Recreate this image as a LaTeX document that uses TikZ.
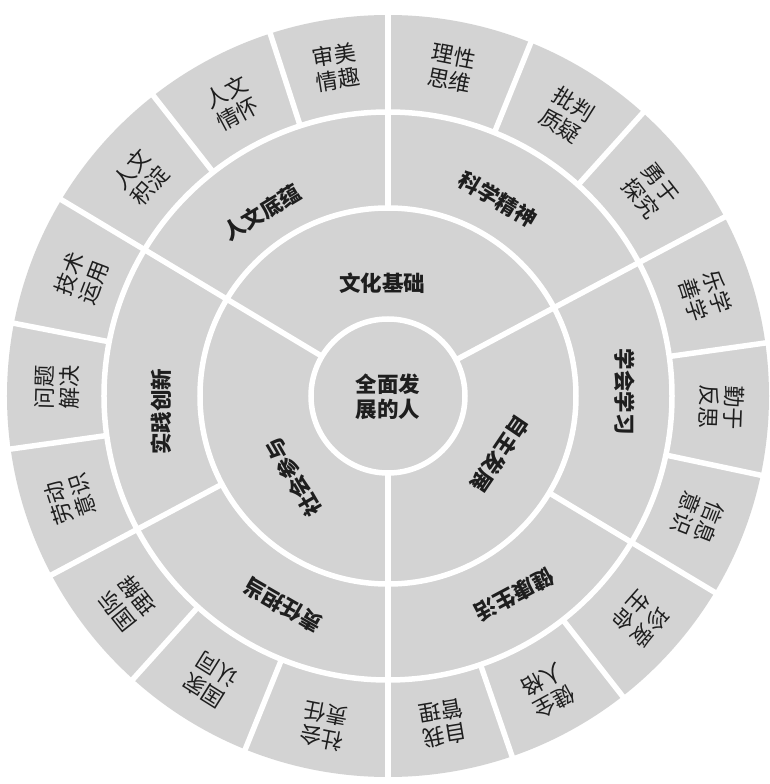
\documentclass[tikz,border=0pt]{standalone}
\usepackage{fontspec}
\newfontfamily\cjkfont{Noto Sans CJK SC}
\definecolor{ringgray}{RGB}{211,211,211}
\definecolor{labeltext}{RGB}{30,30,30}
\tikzset{
  divider/.style={white, line width=5.5pt},
  leaf/.style={text=labeltext, align=center, inner sep=0pt, font=\cjkfont\fontsize{22}{25}\selectfont},
  branch/.style={text=labeltext, inner sep=0pt, font=\cjkfont\bfseries\fontsize{21.5}{25}\selectfont},
}

\begin{document}
\begin{tikzpicture}[x=1pt, y=1pt]
    \useasboundingbox (-388,-388) rectangle (382,396);
    \fill[ringgray] (0,0) circle (381);

    % ring borders
    \draw[divider] (0,0) circle (77);
    \draw[divider] (0,0) circle (188);
    \draw[divider] (0,0) circle (284);

    % lines of the inner ring run to the edge
    \draw[divider] (28:77) -- (28:386);
    \draw[divider] (149:77) -- (149:386);
    \draw[divider] (270:77) -- (270:386);

    % lines of the middle ring
    \draw[divider] (90:188) -- (90:386);
    \draw[divider] (208:188) -- (208:386);
    \draw[divider] (329:188) -- (329:386);

    % lines of the outer ring
    \draw[divider] (8:284) -- (8:386);
    \draw[divider] (48:284) -- (48:386);
    \draw[divider] (68:284) -- (68:386);
    \draw[divider] (108:284) -- (108:386);
    \draw[divider] (128:284) -- (128:386);
    \draw[divider] (169:284) -- (169:386);
    \draw[divider] (188:284) -- (188:386);
    \draw[divider] (228:284) -- (228:386);
    \draw[divider] (248:284) -- (248:386);
    \draw[divider] (289:284) -- (289:386);
    \draw[divider] (308:284) -- (308:386);
    \draw[divider] (348:284) -- (348:386);

    % centre and inner ring
    \node[branch, align=center] (whole) at (0,-1) {全面发\\展的人};
    \node[branch] (wenhua) at (93:113) {文化基础};
    \node[branch, rotate=236] (zizhu) at (332.6:126) {自主发展};
    \node[branch, rotate=120] (shehui) at (220.8:125) {社会参与};

    % middle ring
    \node[branch, rotate=31] (renwen) at (124.4:223) {人文底蕴};
    \node[branch, rotate=-31] (kexue) at (60.7:225) {科学精神};
    \node[branch, rotate=-90] (xuexi) at (1:237) {学会学习};
    \node[branch, rotate=208] (jiankang) at (302.5:236) {健康生活};
    \node[branch, rotate=150] (zeren) at (243.3:234) {责任担当};
    \node[branch, rotate=90] (shijian) at (184:227) {实践创新};

    % outer ring
    \node[leaf, rotate=-72] (lexue) at (17.5:333) {乐学\\善学};
    \node[leaf, rotate=-52] (yongyu) at (38:333) {勇于\\探究};
    \node[leaf, rotate=-32] (pipan) at (57.5:333) {批判\\质疑};
    \node[leaf, rotate=-11] (lixing) at (79:334) {理性\\思维};
    \node[leaf, rotate=9] (shenmei) at (99:333) {审美\\情趣};
    \node[leaf, rotate=28] (qinghuai) at (118:332) {人文\\情怀};
    \node[leaf, rotate=48.5] (jidian) at (138.5:330) {人文\\积淀};
    \node[leaf, rotate=69] (jishu) at (159:328) {技术\\运用};
    \node[leaf, rotate=88.5] (wenti) at (178.5:331) {问题\\解决};
    \node[leaf, rotate=108] (laodong) at (198:334) {劳动\\意识};
    \node[leaf, rotate=128.5] (guoji) at (218.5:333) {国际\\理解};
    \node[leaf, rotate=148] (guojia) at (238:335) {国家\\认同};
    \node[leaf, rotate=169] (zeren3) at (259:336) {社会\\责任};
    \node[leaf, rotate=189.5] (ziwo) at (279.5:332) {自我\\管理};
    \node[leaf, rotate=208.5] (jianquan) at (298.5:336) {健全\\人格};
    \node[leaf, rotate=228.5] (zhenai) at (318.5:337) {珍爱\\生命};
    \node[leaf, rotate=248.5] (xinxi) at (338.5:333) {信息\\意识};
    \node[leaf, rotate=268] (qinyu) at (358:334) {勤于\\反思};
\end{tikzpicture}
\end{document}
